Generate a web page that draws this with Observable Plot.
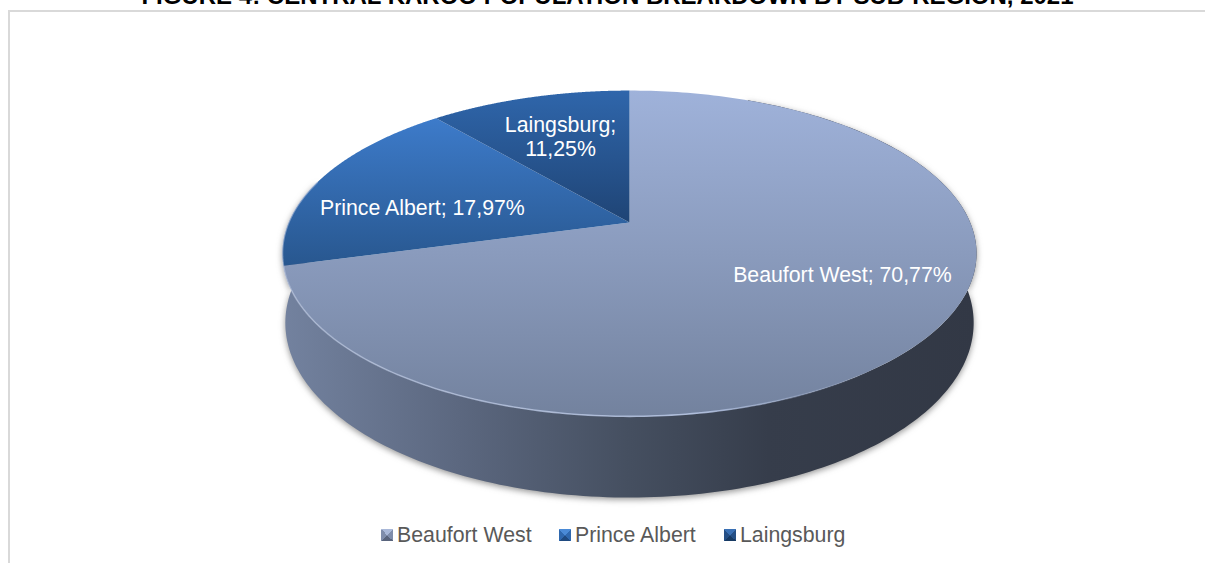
<!DOCTYPE html>
<html><head><meta charset="utf-8">
<script src="https://cdn.jsdelivr.net/npm/d3@7"></script>
<script src="https://cdn.jsdelivr.net/npm/@observablehq/plot@0.6"></script>
<style>
html,body{margin:0;padding:0;background:#fff;overflow:hidden;width:1205px;height:563px;font-family:"Liberation Sans",Arial,sans-serif}
#frame{position:absolute;left:8px;top:10px;right:0;bottom:0;border-left:2px solid #d9d9d9;border-top:2px solid #d9d9d9}
#title{position:absolute;left:0;width:1215px;top:-18px;text-align:center;font-weight:bold;font-size:24px;line-height:28px;color:#000;white-space:nowrap}
#chart{position:absolute;left:0;top:0}
#legend{position:absolute;left:0;top:520px;width:1205px;height:43px;color:#595959;font-size:21.3px}
.k{position:absolute;top:0;line-height:30px;white-space:nowrap}
.s{position:absolute;top:9px;width:12px;height:12px}
</style></head><body>
<div id="frame"></div>
<div id="title">FIGURE 4: CENTRAL KAROO POPULATION BREAKDOWN BY SUB-REGION, 2021</div>
<div id="chart"></div>
<div id="legend"></div>
<script>
const regions = ["Beaufort West", "Prince Albert", "Laingsburg"];
const shares = [70.77, 17.97, 11.25];
const shareLabels = ["70,77%", "17,97%", "11,25%"];
const gradientIds = ["gBeaufort", "gPrince", "gLaingsburg"];
const legendColors = [["#a9b8d8","#7f8dab","#59647c"],["#4a8ad6","#2f68ae","#1f4a80"],["#3a70b4","#254f85","#173a63"]];
const legendLeft = [381, 559, 724];
const labelX = [0.625, -0.608, -0.2025];
const labelY = [0.331, -0.096, -0.551];

const tilt = 0.19, sink = 0.008, depth = 0.433;
const project = (th, d = 0, w = 0) => {
  const u = Math.sin(th), v = -Math.cos(th), q = 1 - tilt * v + d;
  return {x: u / q, y: (v + w) / q};
};
const arc = (a0, a1, d, w, n = 240) => d3.range(n + 1).map(i => project(a0 + (a1 - a0) * i / n, d, w));

const total = d3.sum(shares);
let acc = 0;
const slices = shares.map((s, i) => {
  const a0 = acc / total * 2 * Math.PI; acc += s;
  const a1 = acc / total * 2 * Math.PI;
  return {i, a0, a1, pts: [{x: 0, y: 0}, ...arc(a0, a1, 0, 0)]};
});
const frontStart = 0.42, frontEnd = 2 * Math.PI - 1.30;
const wall = [...arc(frontStart, frontEnd, 0, 0), ...arc(frontEnd, frontStart, sink, depth)];
const rim = arc(1.0, frontEnd, 0, 0);

const labels = regions.map((r, i) => ({
  x: labelX[i], y: labelY[i],
  text: i === 2 ? r + ";\n" + shareLabels[i] : r + "; " + shareLabels[i]
}));

const stop = (o, c) => `<stop offset="${o}" stop-color="${c}"/>`;
const defs = () => {
  const g = document.createElementNS("http://www.w3.org/2000/svg", "defs");
  const v = (id, ss) => `<linearGradient id="${id}" x1="0" y1="0" x2="0" y2="1">${ss}</linearGradient>`;
  const h = (id, ss) => `<linearGradient id="${id}" x1="0" y1="0" x2="1" y2="0">${ss}</linearGradient>`;
  g.innerHTML =
    v("gBeaufort", stop(0, "#9fb2da") + stop(0.5, "#8a9bbd") + stop(1, "#73829e")) +
    v("gPrince", stop(0, "#3d7bca") + stop(1, "#28578f")) +
    v("gLaingsburg", stop(0, "#2f66ab") + stop(1, "#1f4475")) +
    h("gWall", stop(0, "#73829f") + stop(0.25, "#5c6880") + stop(0.5, "#454f60") + stop(0.7, "#363d4b") + stop(1, "#323845")) +
    h("gRim", '<stop offset="0" stop-color="#c3cfe8" stop-opacity=".5"/><stop offset=".6" stop-color="#b4c3e2" stop-opacity=".9"/><stop offset=".72" stop-color="#a9b9da" stop-opacity=".5"/><stop offset=".85" stop-color="#a9b9da" stop-opacity="0"/>');
  return g;
};

const chart = Plot.plot({
  width: 1205, height: 520, margin: 0,
  x: {domain: [-1, 1], range: [288.3, 969.7], axis: null},
  y: {domain: [-1, 1], range: [65, 379], axis: null},
  style: {background: "transparent", fontFamily: "'Liberation Sans',Arial,sans-serif"},
  marks: [
    defs,
    Plot.line(wall, {x: "x", y: "y", fill: "url(#gWall)", stroke: "none", imageFilter: "drop-shadow(0px 2px 3px rgba(60,60,60,.55))"}),
    ...slices.map((sl, i) => Plot.line(sl.pts, {x: "x", y: "y", fill: `url(#${gradientIds[i]})`, stroke: "none"})),
    Plot.line(rim, {x: "x", y: "y", stroke: "url(#gRim)", strokeWidth: 1.6, fill: "none", imageFilter: "blur(0.5px)"}),
    Plot.text(labels, {x: "x", y: "y", text: "text", fill: "#fff", fontSize: 21.3, lineHeight: 1.17, textAnchor: "middle"})
  ]
});
document.getElementById("chart").append(chart);

const legend = document.getElementById("legend");
regions.forEach((r, i) => {
  const c = legendColors[i];
  const s = document.createElement("div"); s.className = "s";
  s.style.left = legendLeft[i] + "px";
  s.style.background = `conic-gradient(from -45deg, ${c[0]} 0 25%, ${c[1]} 25% 50%, ${c[2]} 50% 75%, ${c[1]} 75%)`;
  const k = document.createElement("div"); k.className = "k";
  k.style.left = legendLeft[i] + 16 + "px"; k.textContent = r;
  legend.append(s, k);
});
</script>
</body></html>
